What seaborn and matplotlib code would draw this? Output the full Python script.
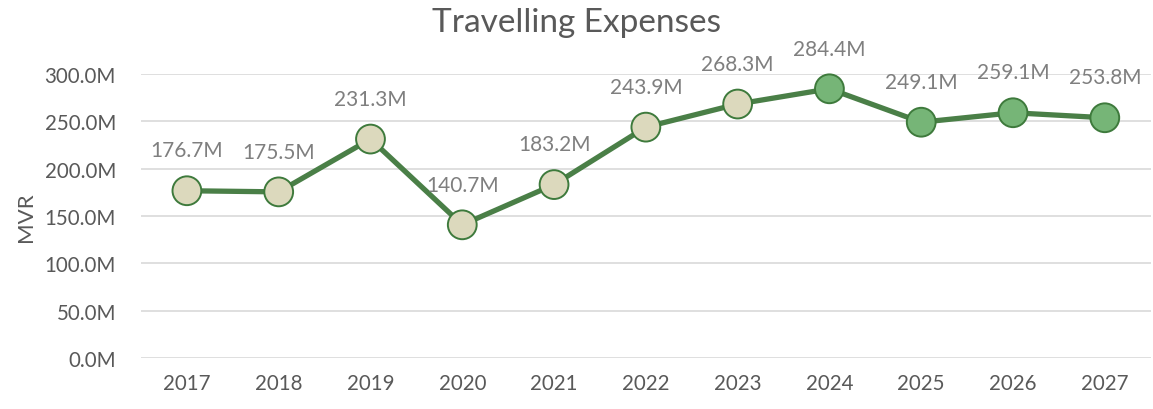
import pandas as pd
import matplotlib
matplotlib.use("Agg")
import matplotlib.pyplot as plt
import seaborn as sns

years = ["2017", "2018", "2019", "2020", "2021", "2022", "2023", "2024", "2025", "2026", "2027"]
expenses_m = [176.7, 175.5, 231.3, 140.7, 183.2, 243.9, 268.3, 284.4, 249.1, 259.1, 253.8]
period = ["Actual"] * 7 + ["Projected"] * 4

df = pd.DataFrame({"Year": years, "Expense": expenses_m, "Period": period})
df["x"] = range(len(df))

sns.set_style("white")
plt.rcParams["font.family"] = ["Lato", "DejaVu Sans"]

fig = plt.figure(figsize=(11.53, 4.1), dpi=100)
ax = fig.add_axes([0.1223, 0.1244, 0.8757, 0.6926])

line_col = "#4a7f47"
sns.lineplot(data=df, x="x", y="Expense", color=line_col, linewidth=3.8, ax=ax, zorder=2)
sns.scatterplot(data=df, x="x", y="Expense", hue="Period",
                palette={"Actual": "#dcd9bd", "Projected": "#76b577"},
                s=430, edgecolor="#3e7a3c", linewidth=1.4, ax=ax, zorder=3,
                legend=False, clip_on=False)

for xi, v in zip(df["x"], expenses_m):
    ax.annotate(f"{v:.1f}M", (xi, v), xytext=(0, 29), textcoords="offset points",
                ha="center", va="center", fontsize=15, color="#7f7f7f")

ax.set_xlim(-0.5, len(years) - 0.5)
ax.set_ylim(0, 300)
ax.set_xticks(df["x"])
ax.set_xticklabels(years)
ax.set_yticks(range(0, 301, 50))
ax.set_yticklabels([f"{t:.1f}M" for t in range(0, 301, 50)])
ax.tick_params(axis="both", labelsize=14.8, colors="#595959", length=0)
ax.tick_params(axis="x", pad=11)
ax.tick_params(axis="y", pad=18)
ax.grid(axis="y", color="#d9d9d9", linewidth=1.2)
ax.set_axisbelow(True)
sns.despine(ax=ax, left=True, bottom=True)
ax.set_xlabel("")
ax.set_ylabel("MVR", fontsize=16, color="#595959", labelpad=6)
fig.text(0.5, 0.945, "Travelling Expenses", ha="center", va="center", fontsize=24, color="#595959")

fig.savefig("out.png", dpi=100)
